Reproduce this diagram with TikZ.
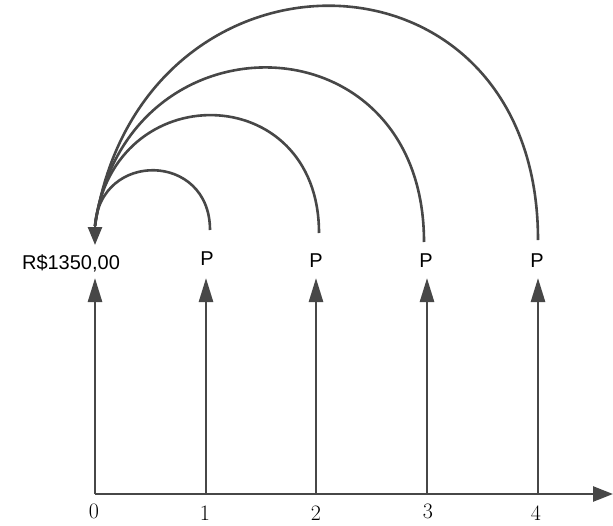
\documentclass[tikz,border=0pt]{standalone}
\usepackage{fontspec}
\newfontfamily\labfont{Liberation Sans}
\usetikzlibrary{arrows.meta}
\definecolor{ink}{HTML}{474747}
\tikzset{
  axisline/.style={ink, line width=2.6pt},
  uparrow/.style={ink, line width=2.6pt, -{Triangle[length=24pt,width=14pt]}},
  arcline/.style={ink, line width=2.6pt},
  sanslab/.style={font=\labfont\fontsize{20}{22}\selectfont, inner sep=0pt},
  numlab/.style={font=\fontsize{22}{24}\selectfont, inner sep=0pt},
}
\begin{document}
\begin{tikzpicture}[x=1pt,y=-1pt]
\useasboundingbox (0,0) rectangle (613,525);
% axis
\coordinate (o) at (95,494);
\coordinate (end) at (613,494);
\draw[axisline, -{Triangle[length=20pt,width=15pt]}] (o) -- (end);
% ticks / vertical arrows
\foreach \i/\x in {0/95,1/206,2/316,3/427,4/538}{
  \coordinate (b\i) at (\x,494);
  \coordinate (t\i) at (\x,278);
  \draw[uparrow] (b\i) -- (t\i);
}
% axis labels
\node[numlab] (n0) at (94,511) {0};
\node[numlab] (n1) at (205,513) {1};
\node[numlab] (n2) at (316,513) {2};
\node[numlab] (n3) at (428,511) {3};
\node[numlab] (n4) at (536,513) {4};
% value labels
\node[sanslab] (v0) at (71,263) {R\$1350,00};
\node[sanslab] (p1) at (207,259) {P};
\node[sanslab] (p2) at (316,261) {P};
\node[sanslab] (p3) at (426,261) {P};
\node[sanslab] (p4) at (537,261) {P};
% arcs
\coordinate (L) at (95,226);
\coordinate (Ltip) at (95,245);
\coordinate (r1) at (210,230);
\coordinate (r2) at (319,233);
\coordinate (r3) at (424,242);
\coordinate (r4) at (538,240);
\draw[arcline] (r1) .. controls (210,152) and (100,150) .. (L);
\draw[arcline] (r2) .. controls (319,79) and (112,75) .. (L);
\draw[arcline] (r3) .. controls (424,14) and (125,10) .. (L);
\draw[arcline] (r4) .. controls (538,-68) and (140,-72) .. (L);
\draw[ink, line width=2.6pt, -{Triangle[length=18pt,width=14pt]}] (L) -- (Ltip);
\end{tikzpicture}
\end{document}
